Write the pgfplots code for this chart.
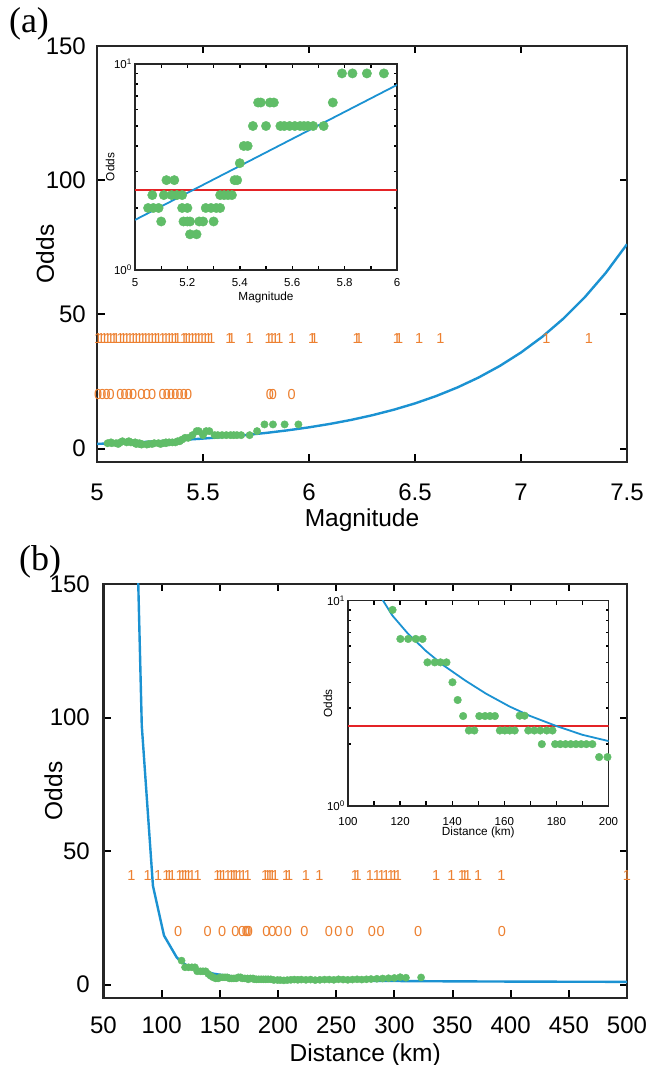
\documentclass[border=0pt]{standalone}
\usepackage{fontspec}
\setmainfont{Liberation Sans}
\newfontfamily\panelfont{Liberation Serif}
\usepackage{pgfplots}
\usepackage{pgfplotstable}
\pgfplotsset{compat=1.18}
\definecolor{orangeC}{RGB}{237,128,48}
\definecolor{greenC}{RGB}{96,189,104}
\definecolor{blueC}{RGB}{27,146,210}
\definecolor{redC}{RGB}{228,35,38}

% ---------- data ----------
\pgfplotstableread{
m o
5.79 9.0
5.83 9.0
5.885 9.0
5.95 9.0
5.47 6.5
5.48 6.5
5.515 6.5
5.53 6.5
5.755 6.5
5.45 5.0
5.50 5.0
5.555 5.0
5.57 5.0
5.59 5.0
5.61 5.0
5.63 5.0
5.645 5.0
5.66 5.0
5.68 5.0
5.72 5.0
5.415 4.0
5.43 4.0
5.40 3.3
5.12 2.73
5.15 2.73
5.38 2.73
5.39 2.73
5.066 2.31
5.11 2.31
5.14 2.31
5.16 2.31
5.18 2.31
5.325 2.31
5.34 2.31
5.355 2.31
5.37 2.31
5.05 2.0
5.07 2.0
5.09 2.0
5.18 2.0
5.20 2.0
5.27 2.0
5.29 2.0
5.31 2.0
5.325 2.0
5.10 1.72
5.185 1.72
5.20 1.72
5.21 1.72
5.245 1.72
5.26 1.72
5.30 1.72
5.21 1.49
5.235 1.49
}\greenA

\pgfplotstableread{
m o
5.0 1.75
5.1 2.035
5.2 2.367
5.3 2.752
5.4 3.200
5.5 3.722
5.6 4.328
5.7 5.033
5.8 5.853
5.9 6.807
6.0 7.915
6.1 9.205
6.2 10.70
6.3 12.45
6.4 14.48
6.5 16.83
6.6 19.58
6.7 22.77
6.8 26.48
6.9 30.79
7.0 35.80
7.1 41.64
7.2 48.42
7.3 56.31
7.4 65.48
7.5 76.14
}\curveA

\pgfplotstableread{
m o
5.005 41
5.02 41
5.035 41
5.05 41
5.065 41
5.08 41
5.09 41
5.11 41
5.125 41
5.14 41
5.155 41
5.17 41
5.185 41
5.2 41
5.215 41
5.23 41
5.245 41
5.26 41
5.275 41
5.29 41
5.31 41
5.325 41
5.34 41
5.355 41
5.37 41
5.38 41
5.41 41
5.42 41
5.435 41
5.45 41
5.465 41
5.48 41
5.495 41
5.51 41
5.525 41
5.54 41
5.625 41
5.635 41
5.72 41
5.81 41
5.825 41
5.84 41
5.86 41
5.92 41
6.015 41
6.025 41
6.225 41
6.235 41
6.415 41
6.425 41
6.52 41
6.62 41
7.12 41
7.32 41
}\onesA

\pgfplotstableread{
m o
5.005 20
5.025 20
5.045 20
5.065 20
5.11 20
5.13 20
5.15 20
5.17 20
5.21 20
5.235 20
5.26 20
5.31 20
5.33 20
5.35 20
5.37 20
5.39 20
5.41 20
5.43 20
5.815 20
5.83 20
5.918 20
}\zerosA

\pgfplotstableread{
d o
117.1 9.0
120.1 6.5
123.1 6.5
126.0 6.5
128.6 6.5
130.5 5.0
133.3 5.0
135.5 5.0
137.8 5.0
140.1 4.0
142.1 3.28
144.2 2.74
146.4 2.33
148.5 2.33
150.4 2.74
152.6 2.74
154.5 2.74
156.4 2.74
158.3 2.33
160.2 2.33
162.1 2.33
164.0 2.33
165.9 2.75
167.8 2.75
169.2 2.33
171.5 2.33
173.8 2.33
176.3 2.33
178.5 2.33
174.4 2.0
179.5 2.0
181.5 2.0
183.5 2.0
185.5 2.0
187.5 2.0
189.5 2.0
191.5 2.0
193.8 2.0
196.4 1.73
199.6 1.73
}\greenB

\pgfplotstableread{
d o
202 1.7
205 1.6
208 1.7
211 1.8
214 1.9
217 1.8
220 1.9
224 1.8
228 1.9
232 1.7
236 1.8
240 1.9
244 1.9
248 1.8
252 2.0
256 1.9
260 1.8
264 1.9
268 2.0
272 1.9
276 2.0
280 2.1
285 2.2
290 2.3
295 2.4
300 2.5
305 2.8
310 2.6
323 2.7
}\greenBextra

\pgfplotstableread{
d o
79.6 155
82.9 97
92.5 37
102 18.4
112.8 10.3
117 8.46
123 6.90
130 5.67
136.5 4.85
145 4.08
153 3.52
162 3.05
170 2.74
180 2.45
190 2.22
200 2.07
220 1.82
250 1.58
300 1.36
350 1.23
400 1.15
450 1.09
500 1.05
}\curveB

\pgfplotstableread{
d o
74 41
88 41
97 41
104 41
106.5 41
109 41
115.5 41
118 41
120.5 41
123 41
126 41
131 41
148 41
150.5 41
153 41
157 41
160 41
162 41
164 41
167 41
170 41
174 41
189 41
191 41
193 41
195 41
197.5 41
207 41
209.5 41
224 41
235.5 41
266 41
268.5 41
279 41
285 41
289 41
293 41
297 41
300 41
303 41
336 41
349 41
358 41
360.5 41
363 41
372 41
392 41
500 41
}\onesB

\pgfplotstableread{
d o
114.2 20
139.5 20
152 20
163.3 20
169.2 20
172.5 20
173.7 20
175 20
190.1 20
195.2 20
200.5 20
208.6 20
222.8 20
243.7 20
251.9 20
261.5 20
280.8 20
288.3 20
320.4 20
392.4 20
}\zerosB

\pgfplotsset{
  mainax/.style={
    scale only axis, anchor=south west,
    axis background/.style={fill=white},
    tick align=inside, tick pos=both,
    major tick length=7.5pt,
    tick style={black, line width=2pt},
    axis line style={line width=2.5pt, black!85},
    tick label style={font=\fontsize{24}{25}\selectfont},
    label style={font=\fontsize{24.5}{26}\selectfont},
    xticklabel style={anchor=center, yshift=-30pt},
    yticklabel style={anchor=east, inner sep=0pt, xshift=-11pt},
  },
  insetax/.style={
    scale only axis, anchor=south west,
    axis background/.style={fill=white},
    tick align=inside, tick pos=both,
    major tick length=4.5pt, minor tick length=3pt,
    tick style={black, line width=1.4pt},
    axis line style={line width=1.8pt, black!85},
    tick label style={font=\fontsize{11.5}{12}\selectfont},
    label style={font=\fontsize{11.8}{12}\selectfont},
    xticklabel style={anchor=center, yshift=-13pt},
    yticklabel style={anchor=east, inner sep=0pt, xshift=-3pt},
  },
  onemark/.style={only marks, orangeC, mark=text, text mark={1}, text mark as node=true,
    text mark style={font=\fontsize{14.5}{14.5}\selectfont, inner sep=0pt, text=orangeC}},
  zeromark/.style={only marks, orangeC, mark=text, text mark={0}, text mark as node=true,
    text mark style={font=\fontsize{14.5}{14.5}\selectfont, inner sep=0pt, text=orangeC}},
}

\begin{document}
\begin{tikzpicture}
\path[use as bounding box] (0,0) rectangle (646pt,1065pt);

% ================= (a) main =================
\begin{axis}[mainax, at={(97pt,603pt)}, width=530pt, height=416pt,
  xmin=5, xmax=7.5, ymin=-5, ymax=150,
  xtick={5,5.5,6,6.5,7,7.5}, xticklabels={5,5.5,6,6.5,7,7.5},
  ytick={0,50,100,150}, yticklabels={0,50,100,150},
  xlabel={Magnitude}, ylabel={Odds},
  xlabel style={at={(axis description cs:0.5,-0.139)}, anchor=center},
  ylabel style={at={(axis description cs:-0.098,0.5)}, anchor=center}]
\addplot[onemark] table[x=m,y=o] {\onesA};
\addplot[zeromark] table[x=m,y=o] {\zerosA};
\addplot[only marks, mark=*, mark size=3.7pt, mark options={draw=greenC, fill=greenC}] table[x=m,y=o] {\greenA};
\addplot[blueC, line width=2.4pt, no marks] table[x=m,y=o] {\curveA};
\end{axis}

% ================= (a) inset =================
\begin{axis}[insetax, at={(135pt,795pt)}, width=262pt, height=206pt,
  ymode=log, ymin=1, ymax=10, ytick={1,10},
  yticklabels={10\textsuperscript{0},10\textsuperscript{1}},
  minor ytick={2,3,4,5,6,7,8,9},
  xmin=5, xmax=6,
  xtick={5,5.1,5.2,5.3,5.4,5.5,5.6,5.7,5.8,5.9,6},
  xticklabels={5,,5.2,,5.4,,5.6,,5.8,,6},
  xlabel={Magnitude}, ylabel={Odds},
  xlabel style={at={(axis description cs:0.5,-0.131)}, anchor=center},
  ylabel style={at={(axis description cs:-0.095,0.5)}, anchor=center}]
\addplot[only marks, mark=*, mark size=4.7pt, mark options={draw=greenC, fill=greenC}] table[x=m,y=o] {\greenA};
\addplot[redC, line width=1.8pt, no marks] coordinates {(5,2.44) (6,2.44)};
\addplot[blueC, line width=1.8pt, no marks] table[x=m,y=o] {\curveA};
\end{axis}

% ================= (b) main =================
\begin{axis}[mainax, at={(103.5pt,67pt)}, width=523.5pt, height=414pt,
  xmin=50, xmax=500, ymin=-5, ymax=150,
  xtick={50,100,150,200,250,300,350,400,450,500},
  xticklabels={50,100,150,200,250,300,350,400,450,500},
  ytick={0,50,100,150}, yticklabels={0,50,100,150},
  yticklabel style={xshift=-2.5pt},
  xticklabel style={yshift=3pt},
  xlabel={Distance (km)}, ylabel={Odds},
  xlabel style={at={(axis description cs:0.5,-0.138)}, anchor=center},
  ylabel style={at={(axis description cs:-0.0956,0.5)}, anchor=center}]
\addplot[onemark] table[x=d,y=o] {\onesB};
\addplot[zeromark] table[x=d,y=o] {\zerosB};
\addplot[only marks, mark=*, mark size=3.6pt, mark options={draw=greenC, fill=greenC}] table[x=d,y=o] {\greenB};
\addplot[only marks, mark=*, mark size=3.6pt, mark options={draw=greenC, fill=greenC}] table[x=d,y=o] {\greenBextra};
\addplot[blueC, line width=2.4pt, no marks] table[x=d,y=o] {\curveB};
\end{axis}

% ================= (b) inset =================
\begin{axis}[insetax, at={(348pt,259pt)}, width=260.5pt, height=205.5pt,
  ymode=log, ymin=1, ymax=10, ytick={1,10},
  yticklabels={10\textsuperscript{0},10\textsuperscript{1}},
  minor ytick={2,3,4,5,6,7,8,9},
  xmin=100, xmax=200,
  xtick={100,110,120,130,140,150,160,170,180,190,200},
  xticklabels={100,,120,,140,,160,,180,,200},
  xticklabel style={yshift=-2.5pt},
  xlabel={Distance (km)}, ylabel={Odds},
  xlabel style={at={(axis description cs:0.5,-0.131)}, anchor=center},
  ylabel style={at={(axis description cs:-0.077,0.5)}, anchor=center}]
\addplot[only marks, mark=*, mark size=3.8pt, mark options={draw=greenC, fill=greenC}] table[x=d,y=o] {\greenB};
\addplot[redC, line width=1.8pt, no marks] coordinates {(100,2.45) (200,2.45)};
\addplot[blueC, line width=1.8pt, no marks] table[x=d,y=o] {\curveB};
\end{axis}

\node[font=\panelfont\fontsize{36}{38}\selectfont] at (29pt,1041pt) {(a)};
\node[font=\panelfont\fontsize{36}{38}\selectfont] at (40pt,503pt) {(b)};
\end{tikzpicture}
\end{document}
